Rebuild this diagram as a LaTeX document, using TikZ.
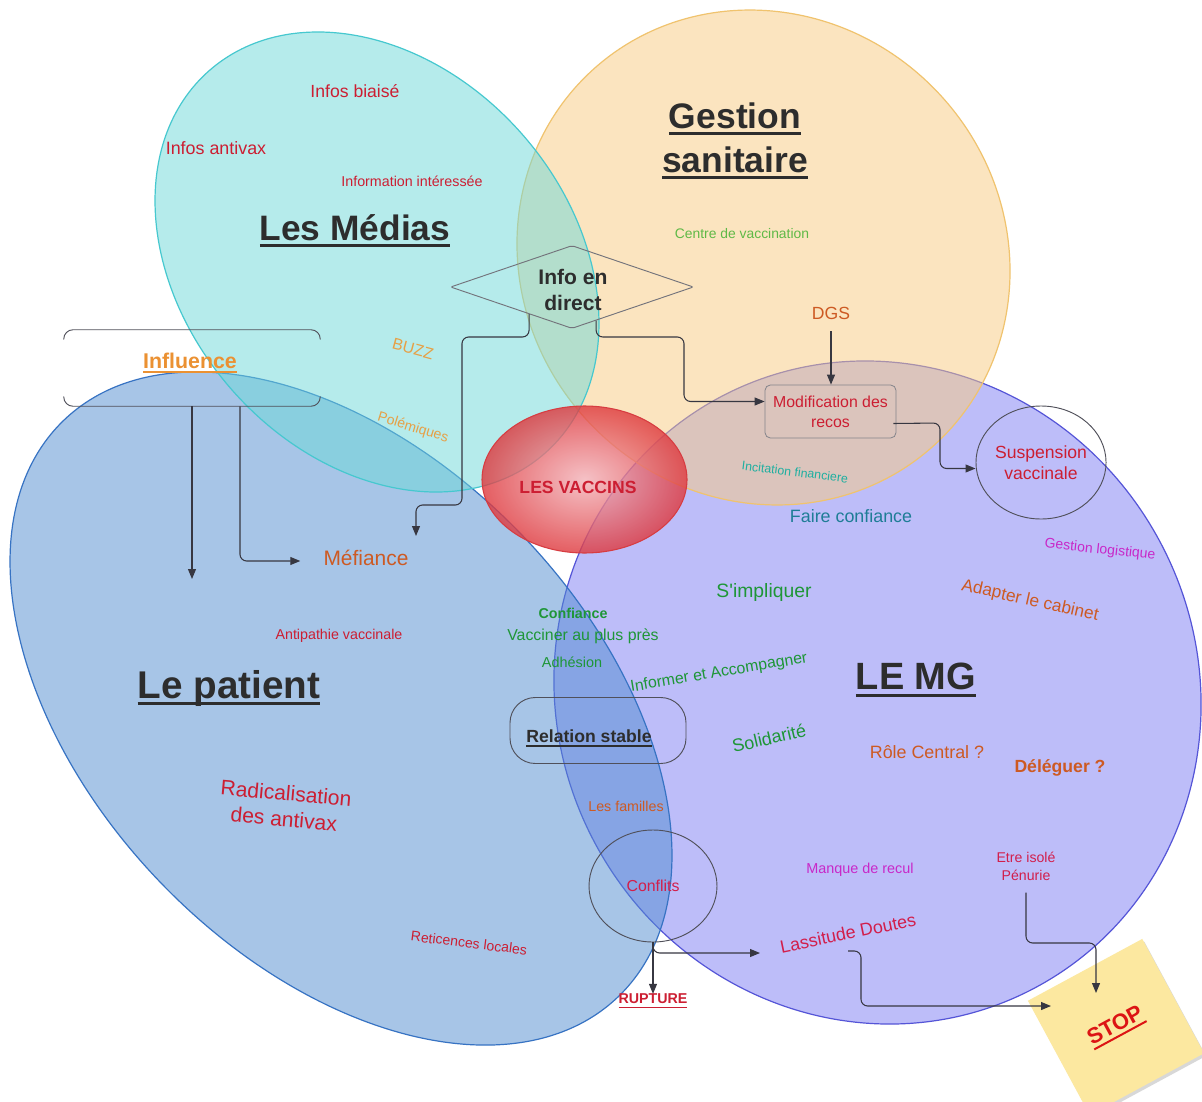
\documentclass[tikz,border=0pt]{standalone}
\usepackage{fontspec}
\setmainfont{Liberation Sans}
\newfontfamily\plainlib{Liberation Sans}
\usetikzlibrary{shapes.geometric,arrows.meta,calc,shadows}
\newsavebox\ulbox
\newcommand\myul[3]{\sbox\ulbox{#3}\rlap{\vrule height -#2 depth \dimexpr#2+#1\relax width \wd\ulbox}\usebox\ulbox}
\definecolor{medfill}{RGB}{109,217,217}
\definecolor{medline}{RGB}{70,200,207}
\definecolor{gesfill}{RGB}{249,203,129}
\definecolor{gesline}{RGB}{240,195,110}
\definecolor{patfill}{RGB}{81,141,209}
\definecolor{patline}{RGB}{55,115,195}
\definecolor{mgfill}{RGB}{125,125,245}
\definecolor{mgline}{RGB}{85,85,215}
\definecolor{vin}{RGB}{243,178,184}
\definecolor{vout}{RGB}{222,55,60}
\definecolor{vline}{RGB}{215,60,65}
\definecolor{dark}{RGB}{45,45,45}
\definecolor{cred}{RGB}{204,30,50}
\definecolor{cbrown}{RGB}{205,90,35}
\definecolor{clorange}{RGB}{230,160,70}
\definecolor{corange}{RGB}{235,145,50}
\definecolor{cgreen}{RGB}{30,150,55}
\definecolor{clgreen}{RGB}{95,185,70}
\definecolor{cteal}{RGB}{30,175,160}
\definecolor{cteal2}{RGB}{30,125,150}
\definecolor{cmag}{RGB}{200,40,200}
\definecolor{ccrim}{RGB}{210,30,75}
\definecolor{cline}{RGB}{55,55,65}
\definecolor{boxline}{RGB}{80,80,90}
\definecolor{stopfill}{RGB}{252,232,160}
\definecolor{stopred}{RGB}{220,20,20}
\tikzset{
  conn/.style={draw=cline, line width=0.8pt, rounded corners=5pt, -{Triangle[length=7.5pt,width=6pt]}},
  txt/.style={inner sep=0pt, align=center},
  fs/.style 2 args={font=\fontsize{#1}{#2}\selectfont},
  fsb/.style 2 args={font=\fontsize{#1}{#2}\selectfont\bfseries},
  venn/.style={line width=0.9pt, fill opacity=0.5},
  thinbox/.style={draw=boxline, line width=0.7pt},
}
\begin{document}
\begin{tikzpicture}[x=0.75pt,y=-0.75pt]
\useasboundingbox (0,0) rectangle (1202,1102);
\fill[white] (0,0) rectangle (1202,1102);
% Venn ellipses
\draw[venn, draw=mgline, fill=mgfill, rotate around={-61.6:(877.5,692.5)}] (877.5,692.5) ellipse [x radius=334.7, y radius=320.2];
\draw[venn, draw=patline, fill=patfill, rotate around={-46.1:(341,708.5)}] (341,708.5) ellipse [x radius=399.9, y radius=250.7];
\draw[venn, draw=gesline, fill=gesfill, rotate around={-47:(763.5,257.5)}] (763.5,257.5) ellipse [x radius=253.7, y radius=240.1];
\draw[venn, draw=medline, fill=medfill, rotate around={-48.8:(377,262)}] (377,262) ellipse [x radius=254.5, y radius=193.4];
% vaccins
\node[ellipse, minimum width=153.75pt, minimum height=110.25pt, inner sep=0pt, inner color=vin, outer color=vout, fill opacity=0.8, draw=vline, line width=0.8pt] (vac) at (584.5,479.5) {};
\node[txt, fsb={13.2pt}{16pt}, text=cred] (vacT) at (578,487) {LES VACCINS};
% boxes
\node[diamond, thinbox, draw=boxline!80, minimum width=182.25pt, minimum height=62.25pt, aspect=2.93, inner sep=0pt, rounded corners=1.5pt] (info) at (572,287) {};
\node[txt, fsb={15.8pt}{19.5pt}, text=dark] (infoT) at (573,290) {Info en\\direct};
\node[minimum width=192pt, minimum height=57pt, inner sep=0pt] (infl) at (192,368) {};
\draw[thinbox, rounded corners=7pt] ($(infl.north west)+(0,10)$) -- (infl.north west) -- (infl.north east) -- ($(infl.north east)+(0,10)$);
\draw[thinbox, rounded corners=7pt] ($(infl.south west)+(0,-10)$) -- (infl.south west) -- (infl.south east) -- ($(infl.south east)+(0,-10)$);
\node[txt, fsb={16pt}{19pt}, text=corange] (inflT) at (190,363) {\myul{1.5pt}{2.5pt}{Influence}};
\node[rectangle, rounded corners=4pt, draw=boxline!70, line width=0.6pt, minimum width=98.25pt, minimum height=39.75pt, txt, fs={11.9pt}{15pt}, text=cred] (reco) at (830.5,411.5) {Modification des\\recos};
\node[ellipse, thinbox, minimum width=85.5pt, minimum height=84.75pt, txt, fs={13.2pt}{16pt}, text=cred] (susp) at (1041,462.5) {Suspension\\vaccinale};
\node[rectangle, rounded corners=19pt, thinbox, minimum width=132pt, minimum height=49.5pt] (relbox) at (598,730.5) {};
\node[txt, fsb={13.2pt}{16pt}, text=dark] (relT) at (589,738) {\myul{1.2pt}{2.2pt}{Relation stable}};
\node[ellipse, thinbox, minimum width=96pt, minimum height=84pt, txt, fs={11.9pt}{14pt}, text=ccrim] (conf) at (653,886) {Conflits};
\node[rectangle, fill=stopfill, minimum size=97.5pt, rotate=28.4, inner sep=0pt, drop shadow={shadow xshift=1.5pt, shadow yshift=-2pt, opacity=0.3}, fsb={16.5pt}{19pt}, text=stopred] (stop) at (1116,1027) {\myul{1.5pt}{2.5pt}{STOP}};
% titles
\node[txt, fsb={26.5pt}{32pt}, text=dark] (medT) at (355,231) {\myul{2.3pt}{3pt}{Les Médias}};
\node[txt, fsb={26.6pt}{33pt}, text=dark] (gesT) at (735,141) {\myul{2.3pt}{3pt}{Gestion}\\\myul{2.3pt}{3pt}{sanitaire}};
\node[txt, fsb={29pt}{34pt}, text=dark] (patT) at (229,688) {\myul{2.5pt}{3pt}{Le patient}};
\node[txt, fsb={28.5pt}{34pt}, text=dark] (mgT) at (916,680) {\myul{2.5pt}{3pt}{LE MG}};
% texts
\node[txt, fs={13.2pt}{16pt}, text=cred] (infob) at (355,91) {Infos biaisé};
\node[txt, fs={13.4pt}{16pt}, text=cred] (infoa) at (216,148) {Infos antivax};
\node[txt, fs={10.7pt}{13pt}, text=cred] (infoi) at (412,181) {Information intéressée};
\node[txt, fs={10.4pt}{13pt}, text=clgreen] (centre) at (742,234) {Centre de vaccination};
\node[txt, fs={13.2pt}{16pt}, text=cbrown] (dgs) at (831,313) {DGS};
\node[txt, fs={12pt}{14pt}, text=clorange, rotate=-15] (buzz) at (413,349) {BUZZ};
\node[txt, fs={10.5pt}{13pt}, text=clorange, rotate=-17] (polem) at (413,428) {Polémiques};
\node[txt, fs={15.7pt}{19pt}, text=cbrown] (mef) at (366,558) {Méfiance};
\node[txt, fs={9.3pt}{11pt}, text=cteal, rotate=-7] (incit) at (795,472) {Incitation financiere};
\node[txt, fs={13.4pt}{16pt}, text=cteal2] (faire) at (851,516) {Faire confiance};
\node[txt, fs={10.5pt}{13pt}, text=cmag, rotate=-6] (gestl) at (1100,550) {Gestion logistique};
\node[txt, font=\plainlib\fontsize{14.5pt}{17pt}\selectfont, text=cgreen] (simpl) at (764,592) {S'impliquer};
\node[txt, fs={13pt}{16pt}, text=cbrown, rotate=-12.5] (adapt) at (1030,601) {Adapter le cabinet};
\node[txt, fsb={10.7pt}{13pt}, text=cgreen] (confb) at (573,613) {Confiance};
\node[txt, fs={11.9pt}{14pt}, text=cgreen] (vacc) at (583,636) {Vacciner au plus près};
\node[txt, fs={10.8pt}{13pt}, text=cgreen] (adh) at (572,662) {Adhésion};
\node[txt, fs={11.9pt}{14pt}, text=cgreen, rotate=9.5] (inform) at (719,673) {Informer et Accompagner};
\node[txt, fs={10.7pt}{13pt}, text=cred] (antip) at (339,636) {Antipathie vaccinale};
\node[txt, fs={13.5pt}{16pt}, text=cgreen, rotate=13] (solid) at (769,738) {Solidarité};
\node[txt, fs={13.4pt}{16pt}, text=cbrown] (role) at (927,752) {Rôle Central ?};
\node[txt, fsb={13.2pt}{16pt}, text=cbrown] (deleg) at (1060,768) {Déléguer ?};
\node[txt, fs={15.8pt}{19.5pt}, text=cred, rotate=-5] (radic) at (285,806) {Radicalisation\\des antivax};
\node[txt, fs={10.7pt}{13pt}, text=cbrown] (famil) at (626,806) {Les familles};
\node[txt, fs={10.8pt}{13pt}, text=cmag] (manque) at (860,870) {Manque de recul};
\node[txt, fs={10.6pt}{13.5pt}, text=ccrim] (etre) at (1026,866) {Etre isolé\\Pénurie};
\node[txt, fs={13.4pt}{16pt}, text=ccrim, rotate=11.6] (lassi) at (848,933) {Lassitude Doutes};
\node[txt, fs={10.5pt}{13pt}, text=cred, rotate=-7] (retic) at (469,943) {Reticences locales};
\node[txt, fsb={10.7pt}{13pt}, text=cred] (rupt) at (653,1001) {\myul{1pt}{2pt}{RUPTURE}};
% free ends
\coordinate (inflDown) at (192,579);
\coordinate (mefIn) at (416,536);
\coordinate (lassIn) at (760,953);
\coordinate (lassOut) at (848,951);
\coordinate (stopL) at (1051,1006);
\coordinate (stopT) at (1096,993);
% connectors
\draw[conn] (infl.south) -- (inflDown);
\draw[conn] ($(infl.south)+(48,0)$) |- ($(mef.west)+(-23,3)$);
\draw[conn] ($(info.south)!0.352!(info.west)$) |- (462,337) |- (416,505) -- (mefIn);
\draw[conn] ($(info.south)!0.198!(info.east)$) |- (684,337) |- ($(reco.west)+(0,-10)$);
\draw[conn, shorten <=9pt] (dgs.south) -- (dgs.south |- reco.north);
\draw[conn] ($(reco.east)+(-3,12)$) -- (940,423) |- ($(susp.west)+(0,6)$);
\draw[conn] (conf.south) -- (rupt.north);
\draw[conn] (conf.south) |- (lassIn);
\draw[conn] (lassOut) -| (861,1006) -- (stopL);
\draw[conn] ($(etre.south)+(0,12)$) |- (1096,943) -- (stopT);
\end{tikzpicture}
\end{document}
